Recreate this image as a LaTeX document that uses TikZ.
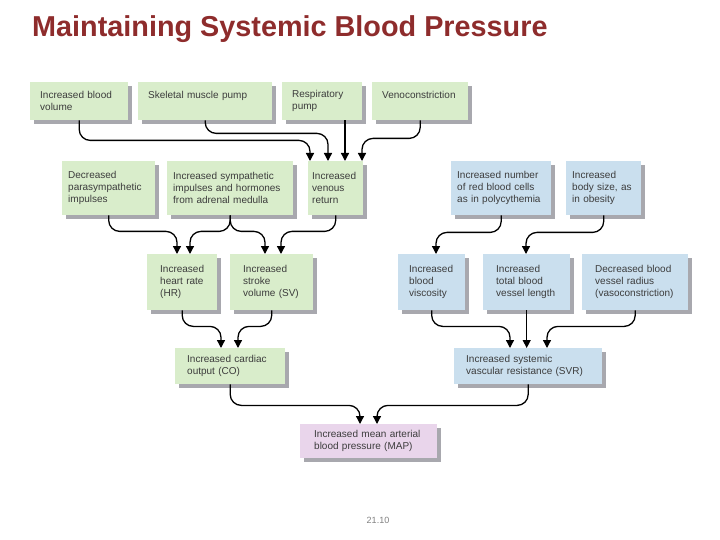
\documentclass[tikz,border=0pt]{standalone}
\usepackage{fontspec}
\setmainfont{Liberation Sans}
\usetikzlibrary{arrows.meta,shadows}
\definecolor{boxgreen}{RGB}{217,237,203}
\definecolor{boxblue}{RGB}{202,223,238}
\definecolor{boxpink}{RGB}{233,213,235}
\definecolor{boxshadow}{RGB}{168,168,174}
\definecolor{titlered}{RGB}{142,44,44}
\definecolor{boxtext}{RGB}{60,60,60}
\tikzset{
	box/.style={anchor=north west, align=left, inner ysep=0pt, font=\fontsize{10}{12}\selectfont, text=boxtext,
		general shadow={fill=boxshadow, shadow xshift=4pt, shadow yshift=-4pt}},
	gbox/.style={box, fill=boxgreen},
	bbox/.style={box, fill=boxblue},
	rowone/.style={minimum height=38pt, inner xsep=10pt},
	rowtwo/.style={minimum height=54pt, inner xsep=6pt},
	rowthree/.style={minimum height=56pt, inner xsep=13pt},
	rowfour/.style={minimum height=36pt, inner xsep=12pt},
	conn/.style={line width=1.3pt, rounded corners=11pt, -{Triangle[width=8pt,length=8pt]}}
}
\begin{document}
\begin{tikzpicture}[x=1pt,y=-1pt]
	\useasboundingbox (0,0) rectangle (720,540);
	\node[anchor=base west, inner sep=0pt, font=\fontsize{28.8}{30}\selectfont\bfseries, text=titlered] (title) at (32,37) {Maintaining Systemic Blood Pressure};

	\node[gbox, rowone, text width=78pt] (bloodvol) at (30,82) {Increased blood\\volume};
	\node[gbox, rowone, text width=114pt] (muscle) at (138,82) {Skeletal muscle pump\\\mbox{}};
	\node[gbox, rowone, text width=60pt] (resp) at (282,82) {Respiratory\\pump};
	\node[gbox, rowone, text width=76pt] (venocon) at (372,82) {Venoconstriction\\\mbox{}};

	\node[gbox, rowtwo, text width=81pt] (parasym) at (62,161) {Decreased\\parasympathetic\\impulses};
	\node[gbox, rowtwo, text width=114pt] (sympath) at (167,161) {Increased sympathetic\\impulses and hormones\\from adrenal medulla};
	\node[gbox, rowtwo, inner xsep=4pt, text width=47pt] (venret) at (308,161) {Increased\\venous\\return};
	\node[bbox, rowtwo, text width=88pt] (rbc) at (451,161) {Increased number\\of red blood cells\\as in polycythemia};
	\node[bbox, rowtwo, text width=63pt] (bodysize) at (566,161) {Increased\\body size, as\\in obesity};

	\node[gbox, rowthree, text width=44pt] (hr) at (147,254) {Increased\\heart rate\\(HR)};
	\node[gbox, rowthree, text width=57pt] (sv) at (230,254) {Increased\\stroke\\volume (SV)};
	\node[bbox, rowthree, inner xsep=11pt, text width=45pt] (visc) at (398,254) {Increased\\blood\\viscosity};
	\node[bbox, rowthree, text width=61pt] (vlength) at (483,254) {Increased\\total blood\\vessel length};
	\node[bbox, rowthree, text width=80pt] (radius) at (582,254) {Decreased blood\\vessel radius\\(vasoconstriction)};

	\node[gbox, rowfour, text width=86pt] (co) at (175,348) {Increased cardiac\\output (CO)};
	\node[bbox, rowfour, text width=124pt] (svr) at (454,348) {Increased systemic\\vascular resistance (SVR)};

	\node[box, fill=boxpink, minimum height=34pt, inner xsep=14pt, text width=109pt] (map) at (300,424) {Increased mean arterial\\blood pressure (MAP)};

	\node[font=\fontsize{9}{10}\selectfont, text=gray] (fignum) at (378,520) {21.10};

	\coordinate (vr1) at ([xshift=2pt]venret.north west);
	\coordinate (vr2) at ([xshift=20pt]venret.north west);
	\coordinate (vr3) at ([xshift=37pt]venret.north west);
	\coordinate (vr4) at ([xshift=54pt]venret.north west);
	\coordinate (hr1) at ([xshift=30pt]hr.north west);
	\coordinate (hr2) at ([xshift=43pt]hr.north west);
	\coordinate (sv1) at ([xshift=35pt]sv.north west);
	\coordinate (sv2) at ([xshift=51pt]sv.north west);
	\coordinate (visc1) at ([xshift=38pt]visc.north west);
	\coordinate (vl1) at ([xshift=43pt]vlength.north west);
	\coordinate (co1) at ([xshift=46pt]co.north west);
	\coordinate (co2) at ([xshift=63pt]co.north west);
	\coordinate (svr1) at ([xshift=56pt]svr.north west);
	\coordinate (svr3) at ([xshift=93pt]svr.north west);
	\coordinate (map1) at ([xshift=60pt]map.north west);
	\coordinate (map2) at ([xshift=77pt]map.north west);

	\draw[conn] (bloodvol.south) -- ++(0,20) -| (vr1);
	\draw[conn] (muscle.south) -- ++(0,13) -| (vr2);
	\draw[conn] (resp.south -| vr3) -- (vr3);
	\draw[conn] (venocon.south) -- ++(0,18) -| (vr4);

	\draw[conn] (parasym.south) -- ++(0,16) -| (hr1);
	\draw[conn] (sympath.south) -- ++(0,16) -| (hr2);
	\draw[conn] (sympath.south) -- ++(0,16) -| (sv1);
	\draw[conn] (venret.south) -- ++(0,16) -| (sv2);
	\draw[conn] (rbc.south) -- ++(0,17) -| (visc1);
	\draw[conn] (bodysize.south) -- ++(0,17) -| (vl1);

	\draw[conn] (hr.south) -- ++(0,16) -| (co1);
	\draw[conn] (sv.south) -- ++(0,16) -| (co2);
	\draw[conn] (visc.south) -- ++(0,16) -| (svr1);
	\draw[conn] (vlength.south) -- (vlength.south |- svr.north);
	\draw[conn] (radius.south) -- ++(0,16) -| (svr3);

	\draw[conn] (co.south) -- ++(0,21) -| (map1);
	\draw[conn] (svr.south) -- ++(0,21) -| (map2);
\end{tikzpicture}
\end{document}
